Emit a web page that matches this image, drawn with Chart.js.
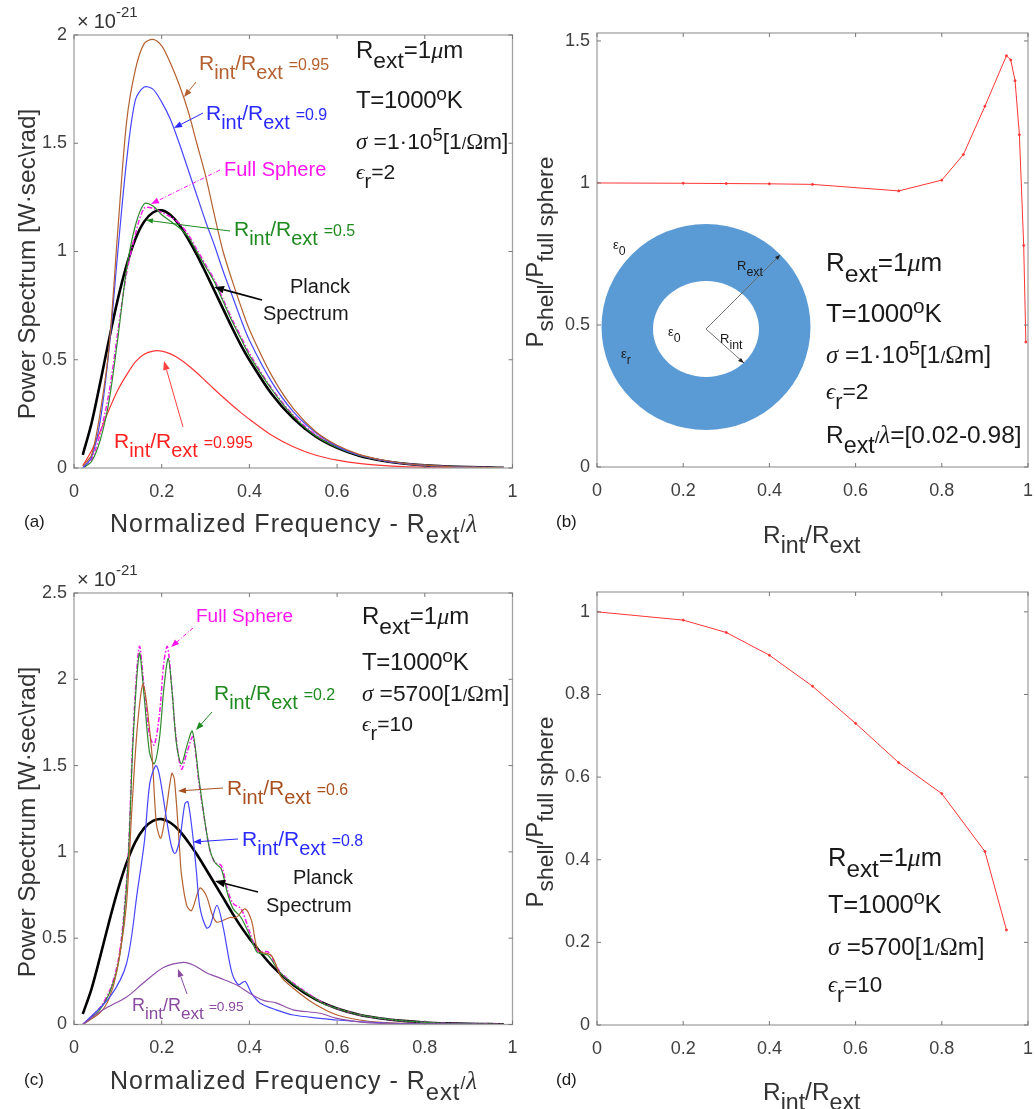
<!DOCTYPE html>
<html><head><meta charset="utf-8">
<script src="https://cdn.jsdelivr.net/npm/chart.js@4/dist/chart.umd.min.js"></script>
<style>
html,body{margin:0;padding:0;background:#fff;width:1035px;height:1109px;overflow:hidden}
#page{position:relative;width:1035px;height:1109px;font-family:"Liberation Sans",Arial,sans-serif;color:#1a1a1a}
canvas{position:absolute}
svg{position:absolute;left:0;top:0}
.t{position:absolute;white-space:nowrap;transform:translateY(-50%);line-height:1}
.v{position:absolute;white-space:nowrap;transform:translate(-50%,-50%) rotate(-90deg);line-height:1}
.t sub,.v sub{position:relative;vertical-align:baseline;top:.45em;font-size:.95em;line-height:0}
.t sup,.v sup{position:relative;vertical-align:baseline;top:-.42em;font-size:.8em;line-height:0}
.s{font-family:"Liberation Serif",serif;font-style:italic}
.n{font-size:.76em}
</style></head><body><div id="page"></div>
<script>
// ---- panel (a) data
const freqA=[.02,.04,.06,.08,.1,.12,.14,.16,.18,.2,.22,.24,.26,.28,.3,.32,.34,.36,.38,.4,.45,.5,.55,.6,.65,.7,.75,.8,.85,.9,.95,.98];
const planck=[.0606,.207,.396,.595,.78,.937,1.058,1.138,1.18,1.19,1.169,1.124,1.059,.986,.904,.82,.735,.65,.57,.499,.344,.229,.147,.093,.057,.035,.021,.012,.007,.004,.002,.001];
const aBrown095=[.01,.06,.26,.56,1.1,1.6,1.84,1.96,1.98,1.95,1.87,1.77,1.65,1.5,1.35,1.17,1.0,.87,.75,.64,.43,.275,.17,.105,.063,.038,.022,.013,.007,.004,.002,.001];
const aBlue09=[0,.05,.22,.55,1.0,1.42,1.7,1.76,1.75,1.69,1.61,1.5,1.38,1.26,1.14,1.03,.91,.8,.69,.59,.4,.26,.165,.1,.06,.036,.021,.012,.007,.004,.002,.001];
const aFull=[0,.04,.16,.35,.63,.9,1.08,1.2,1.2,1.18,1.16,1.13,1.08,1.01,.94,.87,.78,.69,.61,.53,.37,.245,.155,.098,.06,.036,.021,.012,.007,.004,.002,.001];
const aGreen05=[0,.03,.13,.31,.6,.92,1.12,1.22,1.21,1.17,1.14,1.11,1.07,1.0,.93,.86,.77,.68,.6,.52,.365,.24,.15,.095,.058,.036,.021,.012,.007,.004,.002,.001];
const aRed0995=[.01,.08,.17,.27,.36,.43,.49,.525,.54,.54,.527,.505,.475,.44,.402,.364,.327,.291,.257,.225,.152,.098,.06,.036,.021,.012,.006,.003,.002,.001,0,0];
// ---- panel (b) data
const ratioB=[0,.2,.3,.4,.5,.7,.8,.85,.9,.95,.96,.97,.98,.99,.995];
const powerB=[1,.999,.998,.997,.995,.972,1.01,1.1,1.27,1.448,1.433,1.36,1.17,.78,.44];
// ---- panel (c) data
const cFullX=[.02,.044,.06,.082,.1,.112,.124,.135,.149,.16,.172,.183,.195,.205,.213,.222,.232,.245,.258,.271,.285,.3,.31,.321,.336,.35,.363,.381,.4,.417,.43,.443,.47,.5,.568,.6,.65,.7,.75,.8,.85,.9,.95,.98];
const cFullY=[0,.055,.1,.2,.36,.59,1.0,1.7,2.19,1.95,1.68,1.62,1.8,2.1,2.19,1.98,1.68,1.48,1.58,1.665,1.4,1.15,1.01,.94,.92,.78,.7,.67,.54,.43,.42,.42,.305,.24,.125,.093,.057,.035,.021,.012,.007,.004,.002,.001];
const cGreenX=[.02,.044,.06,.082,.1,.112,.124,.135,.149,.16,.172,.183,.195,.205,.215,.224,.234,.245,.258,.27,.285,.3,.31,.321,.336,.35,.363,.381,.4,.417,.43,.443,.47,.5,.568,.6,.65,.7,.75,.8,.85,.9,.95,.98];
const cGreenY=[0,.05,.09,.19,.34,.56,.97,1.66,2.15,1.9,1.58,1.51,1.66,1.95,2.12,1.92,1.62,1.51,1.62,1.7,1.42,1.15,1.01,.94,.9,.76,.67,.62,.52,.42,.41,.4,.3,.235,.122,.093,.057,.035,.021,.012,.007,.004,.002,.001];
const cBrownX=[.02,.06,.08,.097,.119,.132,.145,.158,.177,.188,.198,.21,.223,.229,.241,.245,.257,.268,.287,.301,.324,.356,.37,.39,.405,.42,.45,.472,.5,.545,.6,.652,.7,.8,.98];
const cBrownY=[0,.07,.15,.3,.68,1.25,1.74,1.97,1.59,1.16,1.08,1.24,1.455,1.42,1.01,.87,.69,.66,.79,.75,.595,.62,.62,.67,.6,.43,.4,.277,.21,.125,.055,.026,.012,.003,0];
const cBlueX=[.02,.082,.12,.145,.161,.173,.187,.196,.219,.23,.241,.253,.26,.272,.279,.287,.302,.31,.326,.34,.36,.375,.39,.405,.424,.461,.5,.561,.6,.7,.8,.98];
const cBlueY=[0,.16,.355,.78,1.07,1.4,1.5,1.43,1.07,.99,1.07,1.28,1.29,1.07,.89,.68,.56,.57,.69,.565,.3,.23,.25,.18,.125,.085,.055,.036,.026,.01,.003,0];
const cPurpleX=[.02,.066,.12,.158,.204,.249,.272,.302,.332,.37,.401,.432,.461,.5,.561,.6,.65,.7,.8,.98];
const cPurpleY=[0,.085,.16,.24,.33,.36,.345,.3,.27,.23,.18,.14,.125,.085,.065,.035,.015,.006,.002,0];
// ---- panel (d) data
const ratioD=[0,.2,.3,.4,.5,.6,.7,.8,.9,.95];
const powerD=[1,.98,.95,.895,.82,.73,.635,.56,.42,.23];
// ---- tick labels
const xTicksFreq=[0,.2,.4,.6,.8,1];
const yTicksA=[0,.5,1,1.5,2];
const yTicksB=[0,.5,1,1.5];
const yTicksC=[0,.5,1,1.5,2,2.5];
const yTicksD=[0,.2,.4,.6,.8,1];

const C={brown:'#b4602f',blue:'#4646ff',mag:'#ff14f0',green:'#2e8b2e',red:'#ff3535',purple:'#9050a8',black:'#000'};
const zip=(x,y)=>x.map((v,i)=>({x:v,y:y[i]}));
const page=document.getElementById('page');

const boxPlugin={id:'box',afterDatasetsDraw(ch){
  const {ctx,chartArea:a,scales:{x,y}}=ch; const L=4;
  ctx.save();ctx.strokeStyle='#a3a3a3';ctx.lineWidth=1.3;
  ctx.strokeRect(a.left,a.top,a.right-a.left,a.bottom-a.top);
  ctx.strokeStyle='#777';ctx.lineWidth=1;ctx.beginPath();
  x.ticks.forEach(t=>{const p=x.getPixelForValue(t.value);ctx.moveTo(p,a.bottom);ctx.lineTo(p,a.bottom-L);ctx.moveTo(p,a.top);ctx.lineTo(p,a.top+L);});
  y.ticks.forEach(t=>{const p=y.getPixelForValue(t.value);ctx.moveTo(a.left,p);ctx.lineTo(a.left+L,p);ctx.moveTo(a.right,p);ctx.lineTo(a.right-L,p);});
  ctx.stroke();ctx.restore();
}};

function panel(box,area,ymax,xt,yt,datasets){
  const c=document.createElement('canvas');
  c.width=box.w;c.height=box.h;c.style.left=box.l+'px';c.style.top=box.t+'px';
  page.appendChild(c);
  const tickFont={family:'"Liberation Sans",Arial,sans-serif',size:18};
  new Chart(c,{type:'line',data:{datasets},plugins:[boxPlugin],options:{
    responsive:false,animation:false,devicePixelRatio:1,parsing:false,normalized:true,
    layout:{autoPadding:false,padding:{top:area.t-box.t,right:box.l+box.w-area.r,left:0,bottom:0}},
    plugins:{legend:{display:false},tooltip:{enabled:false}},
    elements:{point:{radius:0}},
    scales:{
      x:{type:'linear',min:0,max:1,grid:{display:false,drawTicks:false},border:{display:false},
        afterBuildTicks:s=>{s.ticks=xt.map(v=>({value:v}));},
        afterFit:s=>{s.height=box.t+box.h-area.b;s.paddingLeft=0;s.paddingRight=0;},
        ticks:{padding:13,color:'#404040',font:tickFont,autoSkip:false,maxRotation:0,minRotation:0,callback:v=>String(v)}},
      y:{type:'linear',min:0,max:ymax,grid:{display:false,drawTicks:false},border:{display:false},
        afterBuildTicks:s=>{s.ticks=yt.map(v=>({value:v}));},
        afterFit:s=>{s.width=area.l-box.l;s.paddingTop=0;s.paddingBottom=0;},
        ticks:{padding:7,color:'#404040',font:tickFont,autoSkip:false,callback:v=>String(v)}}
    }}});
}
const ln=(data,color,w,extra)=>Object.assign({data,borderColor:color,borderWidth:w,pointRadius:0,fill:false,tension:.3},extra||{});
const DD={borderDash:[5,2,1.5,2]};

panel({l:0,t:0,w:520,h:510},{l:74,r:512.5,t:35,b:468},2,xTicksFreq,yTicksA,[
  ln(zip(freqA,aBrown095),C.brown,1.2),ln(zip(freqA,aBlue09),C.blue,1.2),
  ln(zip(freqA,aGreen05),C.green,1.2),ln(zip(freqA,aFull),C.mag,1.4,DD),
  ln(zip(freqA,aRed0995),C.red,1.2),ln(zip(freqA,planck),C.black,2.6)]);
const ptRed={borderColor:C.red,borderWidth:1,pointRadius:1,pointBackgroundColor:C.red,pointBorderColor:C.red,tension:0};
panel({l:545,t:0,w:490,h:510},{l:597,r:1028,t:33,b:467},1.528,xTicksFreq,yTicksB,[
  Object.assign({data:zip(ratioB,powerB)},ptRed)]);
panel({l:0,t:560,w:520,h:510},{l:74,r:512.5,t:593,b:1024.5},2.5,xTicksFreq,yTicksC,[
  ln(zip(cPurpleX,cPurpleY),C.purple,1.2),ln(zip(cBlueX,cBlueY),C.blue,1.2),
  ln(zip(cBrownX,cBrownY),C.brown,1.2),ln(zip(cGreenX,cGreenY),C.green,1.2),
  ln(zip(cFullX,cFullY),C.mag,1.5,DD),ln(zip(freqA,planck),C.black,2.6)]);
panel({l:545,t:560,w:490,h:510},{l:597,r:1028,t:592,b:1025},1.048,xTicksFreq,yTicksD,[
  Object.assign({data:zip(ratioD,powerD)},ptRed)]);

// ---- text
function T(x,y,html,size,color,css){const d=document.createElement('div');d.className='t';d.style.left=x+'px';d.style.top=y+'px';d.style.fontSize=size+'px';if(color)d.style.color=color;if(css)d.style.cssText+=css;d.innerHTML=html;page.appendChild(d);}
function V(x,y,html,size){const d=document.createElement('div');d.className='v';d.style.left=x+'px';d.style.top=y+'px';d.style.fontSize=size+'px';d.style.color='#333';d.innerHTML=html;page.appendChild(d);}
const RR=(v)=>`R<sub>int</sub>/R<sub>ext</sub> <span class="n">=${v}</span>`;
const SL='<span style="font-size:.7em">/</span>';
const XL=`Normalized Frequency - R<sub>ext</sub>${SL}<span class="s">λ</span>`;
const YL='Power Spectrum [W·sec\\rad]';
const PL='P<sub>shell</sub>/P<sub>full sphere</sub>';
const IL='R<sub>int</sub>/R<sub>ext</sub>';
const E10='×<span style="margin-left:5px">10</span>';
function block(x,ys,sigma,eps,size){
  T(x,ys[0],'R<sub>ext</sub>=1<span class="s">μ</span>m',size);
  T(x,ys[1],'T=1000<sup>o</sup>K',size,null,'letter-spacing:-.3px');
  T(x,ys[2],`<span class="s">σ</span> =${sigma}[1${SL}<span style="font-family:'Liberation Serif'">Ω</span>m]`,size*.95);
  T(x,ys[3],`<span class="s">ϵ</span><sub>r</sub>=${eps}`,size*.88);
}
// panel a
T(77,21,E10,20,'#333');T(116,11,'-21',15,'#333');
V(27,264,YL,24.3);T(110,523,XL,25,'#333','letter-spacing:1px');T(24,521,'(a)',17);
T(199,62,RR('0.95'),21,C.brown);T(206,112,RR('0.9'),21,'#2a2aff');
T(224,169,'Full Sphere',20,'#ff14f0');T(234,228,RR('0.5'),21,'#1f8a1f');
T(290,286,'Planck',20);T(263,313,'Spectrum',20);T(114,440,RR('0.995'),21,'#ff2020');
block(356,[50,100,142,172],'1·10<sup>5</sup>',2,24);
// panel b
V(535,252,PL,24);T(763,535,IL,24.4,'#333');T(556,521,'(b)',17);
block(826,[262,313,355,392],'1·10<sup>5</sup>',2,26);
T(826,435,`R<sub>ext</sub>${SL}<span class="s">λ</span>=[0.02-0.98]`,24.5);
T(613,244,'ε<sub>0</sub>',13);T(737,265,'R<sub>ext</sub>',13);T(668,331,'ε<sub>0</sub>',13);T(720,338,'R<sub>int</sub>',13);T(621,353,'ε<sub>r</sub>',13);
// panel c
T(77,579,E10,20,'#333');T(116,569,'-21',15,'#333');
V(27,822,YL,24.3);T(110,1080,XL,25,'#333','letter-spacing:1px');T(24,1079,'(c)',17);
T(196,615,'Full Sphere',19,'#ff14f0');T(214,692,RR('0.2'),21,'#1f8a1f');
T(227,787,RR('0.6'),21,'#a8501f');T(242,838,RR('0.8'),21,'#2a2aff');
T(293,877,'Planck',20);T(266,905,'Spectrum',20);T(132,1005,RR('0.95'),18,'#8a4aa0');
block(362,[616,662,694,724],'5700',10,24);
// panel d
V(535,812,PL,24);T(763,1092,IL,24.4,'#333');T(556,1079,'(d)',17);
block(828,[858,905,947,985],'5700',10,25.5);

// ---- inset and arrows
const NS='http://www.w3.org/2000/svg';
const svg=document.createElementNS(NS,'svg');svg.setAttribute('width',1035);svg.setAttribute('height',1109);
function el(n,a,p){const e=document.createElementNS(NS,n);for(const k in a)e.setAttribute(k,a[k]);(p||svg).appendChild(e);return e;}
function arrow(x1,y1,x2,y2,col,w,dash,head){
  const h=head||8,an=Math.atan2(y2-y1,x2-x1),bx=x2-h*Math.cos(an),by=y2-h*Math.sin(an),hw=h*.38;
  const a={x1,y1,x2:bx,y2:by,stroke:col,'stroke-width':w};if(dash)a['stroke-dasharray']=dash;
  el('line',a);
  el('polygon',{points:`${x2},${y2} ${bx-hw*Math.sin(an)},${by+hw*Math.cos(an)} ${bx+hw*Math.sin(an)},${by-hw*Math.cos(an)}`,fill:col});
}
el('ellipse',{cx:706,cy:327,rx:104.5,ry:103,fill:'#5b9bd5'});
el('ellipse',{cx:706,cy:329,rx:53,ry:48,fill:'#fff'});
el('polyline',{points:'780,255 706,329 744,363',fill:'none',stroke:'#666','stroke-width':.9});
el('polygon',{points:'780,255 775,257 778,260',fill:'#222'});el('polygon',{points:'744,363 738,361 741,358',fill:'#222'});
arrow(196,82,184,97,C.brown,1);arrow(203,113,174,128,'#2a2aff',1);
arrow(220,170,151,204,'#ff14f0',1,'4,2,1,2');
el('path',{d:'M230,231 Q190,226 153,221',fill:'none',stroke:'#1f8a1f','stroke-width':1});arrow(153,221,146,220,'#1f8a1f',1,null,7);
arrow(262,300,214,287,'#000',1.6,null,10);arrow(183,427,164,361,'#ff4040',1,null,9);
arrow(193,628,171,647,'#ff14f0',1,'4,2,1,2');arrow(212,712,196,730,'#1f8a1f',1);
arrow(223,788,178,791,'#a8501f',1);arrow(238,839,193,842,'#2a2aff',1);
arrow(258,892,215,881,'#000',1.6,null,10);arrow(187,994,178,969,'#8a4aa0',1);
page.appendChild(svg);
[...page.querySelectorAll('.t,.v')].forEach(d=>page.appendChild(d));
</script></body></html>
